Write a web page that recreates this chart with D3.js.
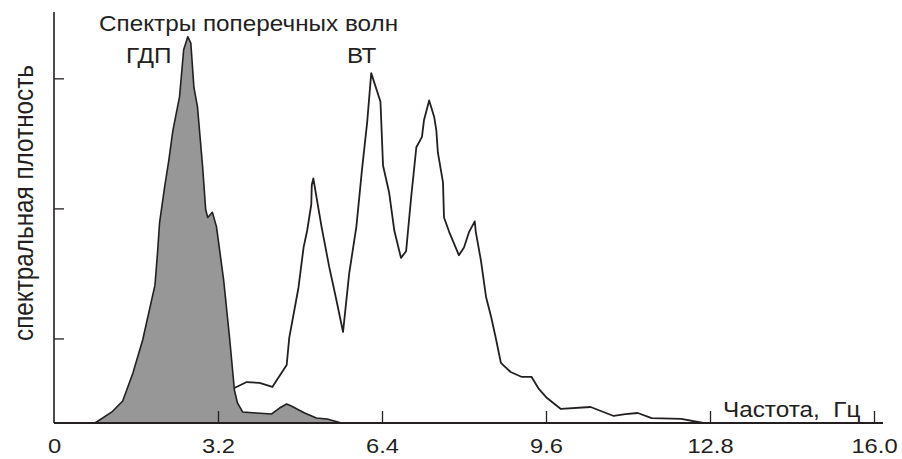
<!DOCTYPE html>
<html>
<head>
<meta charset="utf-8">
<script src="https://cdn.jsdelivr.net/npm/d3@7"></script>
<style>
  html, body { margin: 0; padding: 0; background: #fff; }
  svg { display: block; }
  text { font-family: "Liberation Sans", Arial, sans-serif; fill: #231f20; white-space: pre; }
</style>
</head>
<body>
<svg id="chart" width="902" height="459"></svg>
<script>
// Spectra of shear waves: ГДП (filled) vs ВТ (outline).

const titleText = "Спектры поперечных волн";
const yLabelText = "спектральная плотность";
const xLabelText = "Частота,  Гц";

const xTickValues = [0, 3.2, 6.4, 9.6, 12.8, 16.0];
const yTickValues = [6.5, 16.5, 26.5];

// ГДП spectrum
const gdpFreq = [0.80, 1.13, 1.34, 1.54, 1.73, 1.97, 2.02, 2.06, 2.16, 2.24, 2.32, 2.45, 2.53, 2.61, 2.67, 2.73, 2.80, 2.90, 2.96, 3.00, 3.09, 3.17, 3.31, 3.43, 3.52, 3.58, 3.68, 3.95, 4.24, 4.40, 4.54, 4.63, 4.89, 5.12, 5.33, 5.61];
const gdpDensity = [0, 0.85, 1.69, 3.85, 6.38, 10.6, 13.1, 15.4, 18.2, 20.2, 22.5, 25.1, 28.7, 29.7, 29.2, 25.8, 24.3, 19.7, 16.4, 15.8, 16.2, 15.1, 11.0, 6.38, 2.54, 1.54, 0.85, 0.77, 0.69, 1.15, 1.46, 1.31, 0.77, 0.38, 0.31, 0];

// ВТ spectrum
const btFreq = [0.80, 1.60, 2.60, 3.52, 3.76, 4.01, 4.26, 4.54, 4.59, 4.77, 4.87, 4.94, 5.02, 5.03, 5.06, 5.22, 5.37, 5.51, 5.64, 5.76, 5.90, 6.01, 6.11, 6.19, 6.37, 6.42, 6.54, 6.64, 6.77, 6.87, 6.97, 7.07, 7.18, 7.22, 7.32, 7.42, 7.46, 7.49, 7.59, 7.61, 7.71, 7.90, 8.00, 8.10, 8.21, 8.23, 8.33, 8.43, 8.53, 8.62, 8.72, 8.91, 9.13, 9.32, 9.46, 9.62, 9.89, 10.47, 10.92, 11.15, 11.39, 11.66, 12.24, 12.67];
const btDensity = [0, 0.6, 1.5, 2.69, 3.15, 3.08, 2.77, 4.46, 6.54, 10.4, 13.5, 14.8, 16.8, 18.3, 18.8, 15.1, 12.0, 9.46, 7.0, 11.5, 15.1, 19.5, 23.1, 26.9, 24.7, 19.8, 17.7, 14.8, 12.7, 13.2, 17.4, 21.2, 22.0, 23.3, 24.8, 23.5, 22.5, 20.8, 18.5, 15.8, 14.7, 12.9, 13.5, 14.7, 15.5, 14.7, 12.5, 9.69, 8.15, 6.54, 4.62, 3.92, 3.54, 3.54, 2.62, 1.92, 1.08, 1.23, 0.54, 0.69, 0.77, 0.38, 0.31, 0];

const ink = "#231f20";
const SX = 1.13; // horizontal stretch of the lettering

const svg = d3.select("#chart");

const x = d3.scaleLinear().domain([0, 16]).range([54, 874]);
const y = d3.scaleLinear().domain([0, 31.6]).range([423, 12]);

const btData = btFreq.map((f, i) => ({ f, v: btDensity[i] }));
const gdpData = gdpFreq.map((f, i) => ({ f, v: gdpDensity[i] }));

const area = d3.area()
  .x((d) => x(d.f))
  .y0(y(0))
  .y1((d) => y(d.v));

// ВТ outline first, ГДП drawn over it
svg.append("path")
  .attr("d", area(btData))
  .attr("fill", "#fff")
  .attr("stroke", ink)
  .attr("stroke-width", 1.8)
  .attr("stroke-linejoin", "round");

svg.append("path")
  .attr("d", area(gdpData))
  .attr("fill", "#979797")
  .attr("stroke", ink)
  .attr("stroke-width", 1.6)
  .attr("stroke-linejoin", "round");

// x axis
const xAxis = d3.axisBottom(x)
  .tickValues(xTickValues)
  .tickSize(-12)
  .tickPadding(15)
  .tickFormat((d) => (d === 0 ? "0" : d.toFixed(1)));

const gx = svg.append("g")
  .attr("transform", `translate(0,${y(0)})`)
  .call(xAxis);
gx.select(".domain").remove();
gx.selectAll(".tick line").attr("stroke", ink).attr("stroke-width", 1.3)
  .filter((d) => d === 0).remove();
gx.selectAll(".tick text")
  .attr("fill", ink)
  .style("font-size", "21px")
  .attr("transform", `scale(${SX},1)`);

svg.append("line")
  .attr("x1", x(0)).attr("x2", 883)
  .attr("y1", y(0)).attr("y2", y(0))
  .attr("stroke", ink)
  .attr("stroke-width", 2);

// y axis
const yAxis = d3.axisLeft(y)
  .tickValues(yTickValues)
  .tickSize(-10)
  .tickFormat("");

const gy = svg.append("g")
  .attr("transform", `translate(${x(0)},0)`)
  .call(yAxis);
gy.select(".domain").remove();
gy.selectAll(".tick line").attr("stroke", ink).attr("stroke-width", 1.3);

svg.append("line")
  .attr("x1", x(0)).attr("x2", x(0))
  .attr("y1", 12).attr("y2", y(0))
  .attr("stroke", ink)
  .attr("stroke-width", 1.6);

// labels
function label(txt, px, py, size) {
  svg.append("text")
    .attr("transform", `translate(${px},${py}) scale(${SX},1)`)
    .style("font-size", size + "px")
    .text(txt);
}

label(titleText, 99, 31, 21.5);
label("ГДП", 126, 63, 21.5);
label("ВТ", 347, 63, 21.5);
label(xLabelText, 723, 417, 21.5);

svg.append("text")
  .attr("transform", `translate(33,203) scale(${SX},1) rotate(-90)`)
  .attr("text-anchor", "middle")
  .style("font-size", "24.3px")
  .text(yLabelText);
</script>
</body>
</html>
